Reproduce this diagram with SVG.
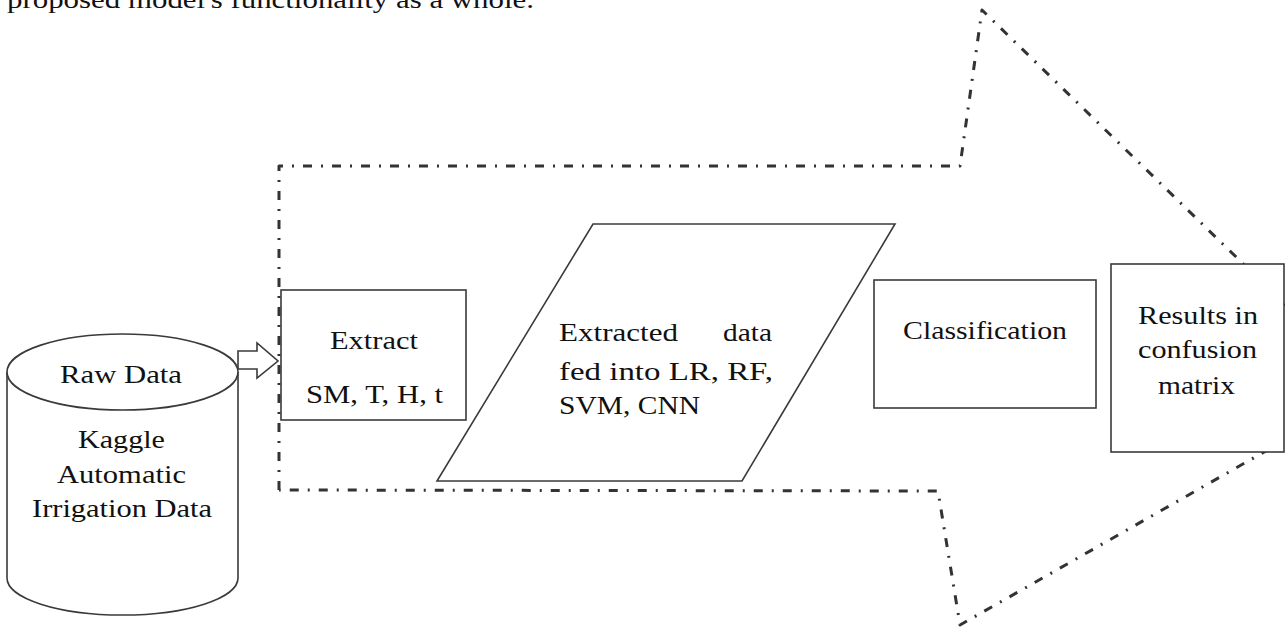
<svg xmlns="http://www.w3.org/2000/svg" width="1285" height="634" viewBox="0 0 1285 634">
  <style>
    .shape { fill: #ffffff; stroke: #3a3a3a; stroke-width: 1.6; }
    .outline { fill: none; stroke: #333333; stroke-width: 3; stroke-dasharray: 9 9 2 9; stroke-linejoin: round; }
    .lbl { font-family: "Liberation Serif", "Times New Roman", serif; font-size: 26px; fill: #111111; }
  </style>

  <!-- caption line at the top edge -->
  <text class="lbl" x="7" y="8" textLength="527" lengthAdjust="spacingAndGlyphs">proposed model's functionality as a whole.</text>

  <!-- large dash-dot process arrow enclosing the pipeline -->
  <g id="connectors">
    <polyline class="outline" points="279,490 279,166 960,166 982,10 1373,390 960,625 938,491 279,490"/>
    <polygon id="data-arrow" class="shape" points="238,351 257,351 257,343 278,361 257,378 257,369 238,369"/>
  </g>

  <!-- raw data store -->
  <g id="raw-data">
    <path class="shape" d="M7,372 L7,578 A115.5,37 0 0 0 238,578 L238,372"/>
    <ellipse class="shape" cx="122.5" cy="372" rx="115.5" ry="38"/>
    <text class="lbl" x="60" y="383" textLength="122" lengthAdjust="spacingAndGlyphs">Raw Data</text>
    <text class="lbl" x="78" y="448" textLength="87" lengthAdjust="spacingAndGlyphs">Kaggle</text>
    <text class="lbl" x="57" y="483" textLength="129" lengthAdjust="spacingAndGlyphs">Automatic</text>
    <text class="lbl" x="32" y="517" textLength="180" lengthAdjust="spacingAndGlyphs">Irrigation Data</text>
  </g>

  <!-- feature extraction -->
  <g id="extract">
    <rect class="shape" x="281" y="290" width="185" height="130"/>
    <text class="lbl" x="330" y="349" textLength="88" lengthAdjust="spacingAndGlyphs">Extract</text>
    <text class="lbl" x="306" y="403" textLength="137" lengthAdjust="spacingAndGlyphs">SM, T, H, t</text>
  </g>

  <!-- models -->
  <g id="models">
    <polygon class="shape" points="593,224 895,224 742,481 437,481"/>
    <text class="lbl" x="559" y="341" textLength="119" lengthAdjust="spacingAndGlyphs">Extracted</text>
    <text class="lbl" x="723" y="341" textLength="49" lengthAdjust="spacingAndGlyphs">data</text>
    <text class="lbl" x="559" y="380" textLength="214" lengthAdjust="spacingAndGlyphs">fed into LR, RF,</text>
    <text class="lbl" x="559" y="414" textLength="141" lengthAdjust="spacingAndGlyphs">SVM, CNN</text>
  </g>

  <!-- classification -->
  <g id="classification">
    <rect class="shape" x="874" y="280" width="222" height="128"/>
    <text class="lbl" x="903" y="339" textLength="164" lengthAdjust="spacingAndGlyphs">Classification</text>
  </g>

  <!-- results -->
  <g id="results">
    <rect class="shape" x="1111" y="264" width="173" height="188"/>
    <text class="lbl" x="1138" y="324" textLength="120" lengthAdjust="spacingAndGlyphs">Results in</text>
    <text class="lbl" x="1138" y="358" textLength="119" lengthAdjust="spacingAndGlyphs">confusion</text>
    <text class="lbl" x="1158" y="394" textLength="77" lengthAdjust="spacingAndGlyphs">matrix</text>
  </g>
</svg>
